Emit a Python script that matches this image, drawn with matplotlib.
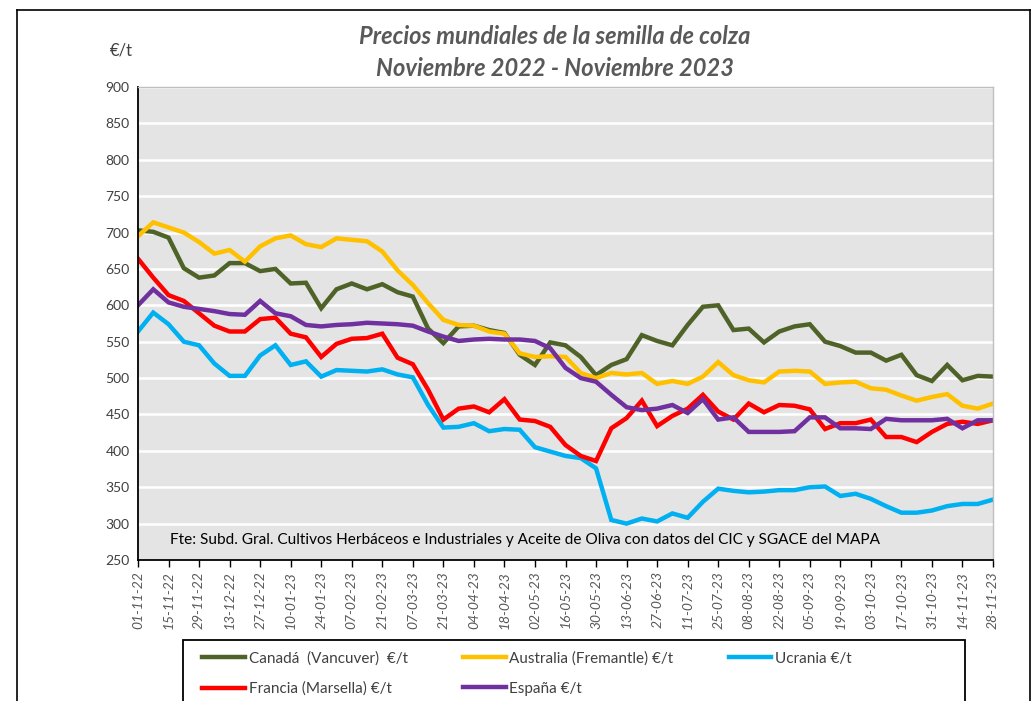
import matplotlib
matplotlib.use("Agg")
import matplotlib.pyplot as plt
from matplotlib.patches import Rectangle
from matplotlib.lines import Line2D

plt.rcParams['font.family'] = ['Lato', 'DejaVu Sans']

tick_labels = ["01-11-22", "15-11-22", "29-11-22", "13-12-22", "27-12-22", "10-01-23",
               "24-01-23", "07-02-23", "21-02-23", "07-03-23", "21-03-23", "04-04-23",
               "18-04-23", "02-05-23", "16-05-23", "30-05-23", "13-06-23", "27-06-23",
               "11-07-23", "25-07-23", "08-08-23", "22-08-23", "05-09-23", "19-09-23",
               "03-10-23", "17-10-23", "31-10-23", "14-11-23", "28-11-23"]

canada = [703, 701, 693, 651, 638, 641, 658, 658, 647, 650, 630, 631, 596, 622, 630, 622,
          629, 618, 612, 568, 548, 571, 572, 566, 562, 532, 518, 549, 545, 529, 504, 518,
          526, 559, 551, 545, 573, 598, 600, 566, 568, 549, 564, 571, 574, 550, 544, 535,
          535, 524, 532, 504, 496, 518, 497, 503, 502]
australia = [695, 714, 707, 700, 687, 671, 676, 660, 681, 692, 696, 684, 680, 692, 690, 688,
             674, 648, 628, 603, 580, 573, 572, 564, 561, 534, 529, 530, 529, 507, 500, 507,
             505, 507, 492, 496, 492, 502, 522, 504, 497, 494, 509, 510, 509, 492, 494, 495,
             486, 484, 476, 469, 474, 478, 462, 458, 465]
ucrania = [564, 590, 574, 550, 545, 520, 503, 503, 531, 545, 518, 523, 502, 511, 510, 509,
           512, 505, 501, 463, 432, 433, 438, 427, 430, 429, 405, 399, 393, 390, 376, 305,
           300, 307, 303, 314, 308, 330, 348, 345, 343, 344, 346, 346, 350, 351, 338, 341,
           334, 324, 315, 315, 318, 324, 327, 327, 333]
francia = [664, 638, 614, 606, 589, 572, 564, 564, 581, 583, 561, 556, 529, 547, 554, 555,
           561, 528, 519, 484, 443, 458, 461, 453, 471, 443, 441, 433, 408, 393, 386, 431,
           445, 469, 434, 448, 458, 477, 454, 443, 465, 453, 463, 462, 457, 430, 438, 438,
           443, 419, 419, 412, 426, 437, 440, 437, 442]
espana = [600, 622, 604, 598, 595, 592, 588, 587, 606, 589, 585, 573, 571, 573, 574, 576,
          575, 574, 572, 564, 557, 551, 553, 554, 553, 553, 551, 541, 514, 500, 495, 477,
          460, 456, 458, 463, 452, 471, 443, 446, 426, 426, 426, 427, 446, 446, 431, 431,
          430, 444, 442, 442, 442, 444, 431, 442, 442]

series = [
    ("Canadá  (Vancuver)  €/t", canada, "#4F6228"),
    ("Australia (Fremantle) €/t", australia, "#FFC000"),
    ("Ucrania €/t", ucrania, "#00B0F0"),
    ("Francia (Marsella) €/t", francia, "#FF0000"),
    ("España €/t", espana, "#7030A0"),
]

W, H = 1034, 701
fig = plt.figure(figsize=(W / 100, H / 100), dpi=100)
fig.patch.set_facecolor("white")

# outer chart frame
fig.add_artist(Line2D([17 / W, 1030 / W], [1 - 10 / H, 1 - 10 / H], color="black", lw=1.2))
fig.add_artist(Line2D([17 / W, 17 / W], [1 - 10 / H, 0], color="black", lw=1.2))
fig.add_artist(Line2D([1030 / W, 1030 / W], [1 - 10 / H, 0], color="black", lw=1.2))

ax = fig.add_axes([138 / W, 1 - 560 / H, (993 - 138) / W, (560 - 87) / H])
ax.set_facecolor("#E4E4E4")

x = list(range(len(canada)))
handles = {}
for name, vals, col in series:
    (h,) = ax.plot(x, vals, color=col, lw=3.2, solid_joinstyle="miter", label=name)
    handles[name] = h

ax.set_xlim(0, len(canada) - 1)
ax.set_ylim(250, 900)
ax.set_yticks(range(250, 901, 50))
ax.yaxis.grid(True, color="white", lw=1.8)
ax.set_axisbelow(True)
ax.tick_params(axis="y", length=0, labelsize=10, labelcolor="#404040", pad=6)

ax.set_xticks(range(0, len(canada), 2))
ax.set_xticklabels(tick_labels, rotation=90, fontsize=10, fontstyle="italic", color="#595959")
ax.tick_params(axis="x", length=5, width=1, color="black", direction="out", pad=3)

for s in ["top", "right"]:
    ax.spines[s].set_color("#BFBFBF")
    ax.spines[s].set_linewidth(1)
ax.spines["left"].set_color("black")
ax.spines["bottom"].set_color("black")
ax.spines["left"].set_linewidth(1.3)
ax.spines["bottom"].set_linewidth(1.3)

ax.text((170 - 138) / (993 - 138), (560 - 540) / (560 - 87),
        "Fte: Subd. Gral. Cultivos Herbáceos e Industriales y Aceite de Oliva con datos del CIC y SGACE del MAPA",
        transform=ax.transAxes, fontsize=11.1, color="black", va="center", ha="left")

fig.text(555 / W, 1 - 37 / H, "Precios mundiales de la semilla de colza", ha="center", va="center",
         fontsize=17, fontweight="bold", fontstyle="italic", color="#595959")
fig.text(555 / W, 1 - 68 / H, "Noviembre 2022 - Noviembre 2023", ha="center", va="center",
         fontsize=17, fontweight="bold", fontstyle="italic", color="#595959")
fig.text(121 / W, 1 - 50 / H, "€/t", ha="center", va="center", fontsize=12, color="#404040")

# legend frame
fig.add_artist(Rectangle((183 / W, -0.02), (965 - 183) / W, (0.02 + 1 - 640 / H),
                         transform=fig.transFigure, facecolor="white", edgecolor="black", lw=1.3, zorder=0))

order = ["Canadá  (Vancuver)  €/t", "Francia (Marsella) €/t",
         "Australia (Fremantle) €/t", "España €/t", "Ucrania €/t"]
leg = fig.legend([handles[n] for n in order], order, ncol=3, loc="upper left",
                 bbox_to_anchor=(190 / W, 1 - 639 / H), frameon=False, fontsize=11,
                 handlelength=2.8, handletextpad=0.25, columnspacing=3.6, labelspacing=1.05,
                 borderpad=0.3)
for t in leg.get_texts():
    t.set_color("#404040")

fig.savefig("out.png", dpi=100)
